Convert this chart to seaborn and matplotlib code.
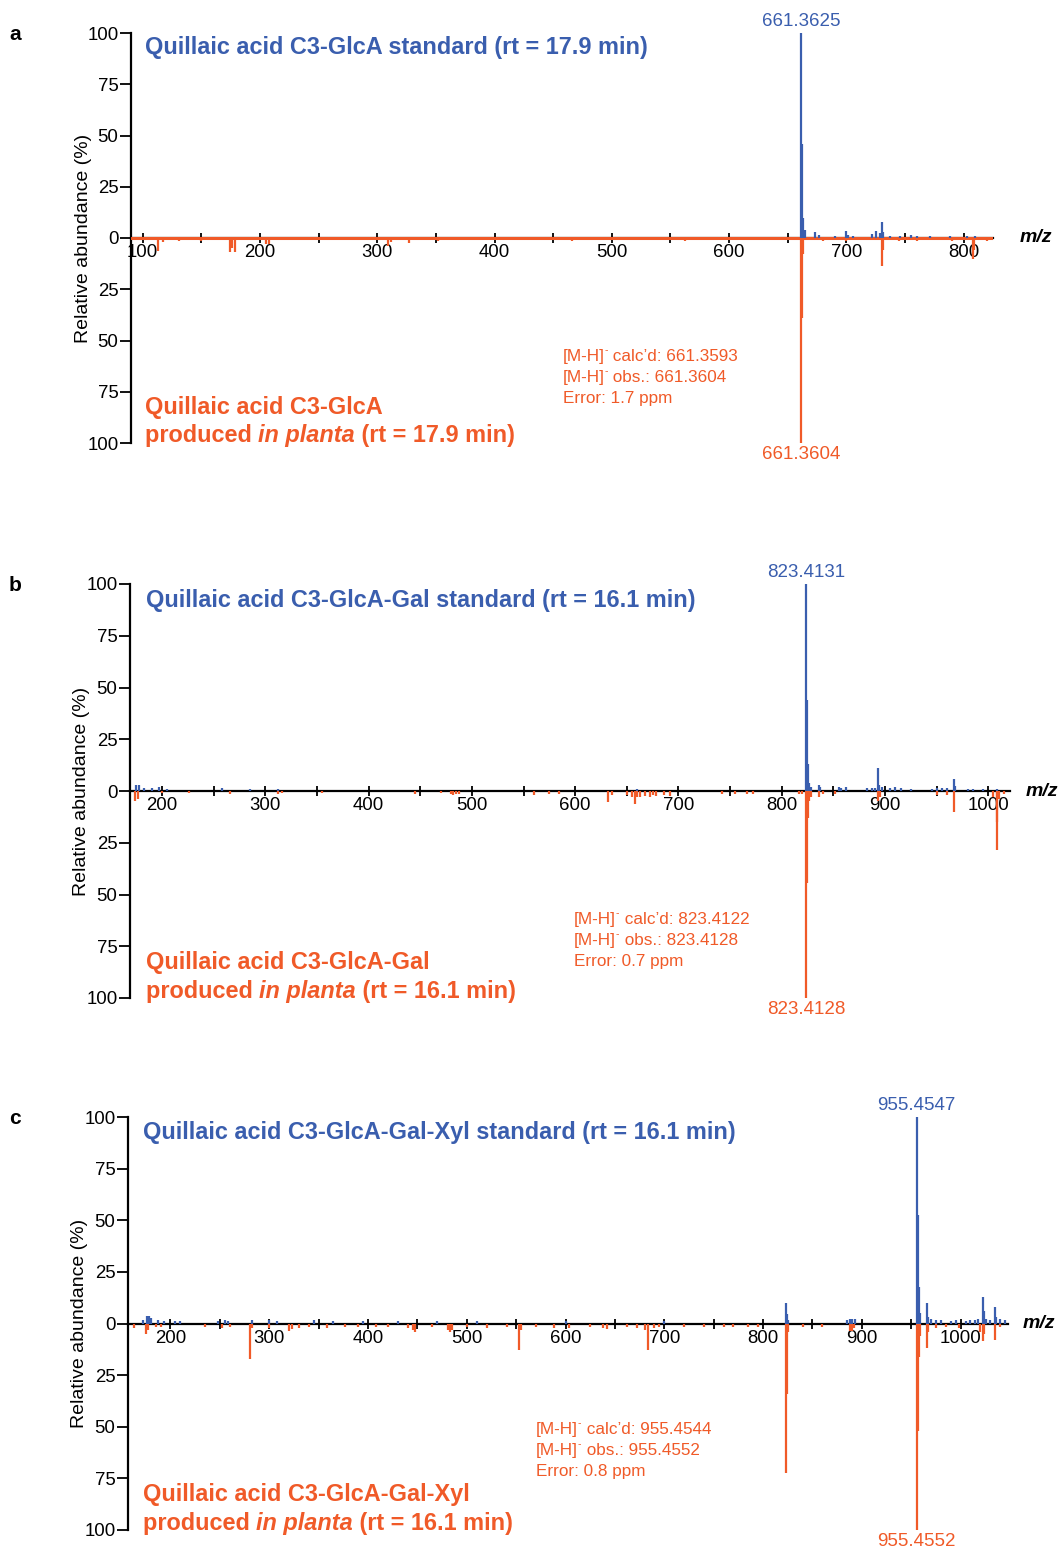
import matplotlib
matplotlib.use("Agg")
import matplotlib.pyplot as plt
import seaborn as sns
import numpy as np

sns.set_theme(style="white")
plt.rcParams['font.family'] = ['Liberation Sans', 'DejaVu Sans']

BLUE = "#3A5EAE"
ORANGE = "#F05A28"

W, H = 1061, 1551

# ---------------- Data (m/z, relative abundance %) ----------------
# Panel a: Quillaic acid C3-GlcA
a_std_mz = [661.36, 662.36, 663.37, 664.4, 673.0, 676.5, 690.0, 699.5, 701.0, 705.5, 722.0,
            725.5, 729.0, 730.4, 731.4, 737.0, 745.5, 755.0, 760.0, 771.0, 788.0, 803.0, 810.0]
a_std_int = [100, 46, 10, 4, 3.0, 1.5, 1.0, 3.2, 1.5, 1.0, 2.0,
             3.5, 2.5, 8.0, 3.0, 1.0, 1.0, 1.5, 1.2, 1.0, 0.8, 0.8, 1.0]
a_pl_mz = [113, 117, 131, 150, 174, 176.5, 179, 190, 205, 207.5, 228, 250, 262, 281, 309, 312,
           327, 352, 371, 400, 425, 462, 466, 501, 530, 562, 581, 610, 630, 661.36, 662.36,
           663.37, 680, 700, 715, 730.4, 731.4, 745, 760, 780, 790, 808, 809, 820]
a_pl_int = [6.5, 2, 1.5, 1.5, 7, 5, 7, 1, 3, 3, 1, 1, 1, 1, 4, 2,
            2.5, 1.5, 1, 1, 1, 1, 1.5, 1.0, 1, 1.5, 1, 1, 1, 100, 39,
            8, 1.5, 1.5, 1, 13.5, 6, 1.5, 1.5, 1, 1.5, 10, 6, 1.5]

# Panel b: Quillaic acid C3-GlcA-Gal
b_std_mz = [175, 178, 183, 190, 197, 205, 258, 285, 312, 660, 823.41, 824.41, 825.42, 826.4,
            828, 836, 837, 855, 857, 862, 883, 887, 890, 893, 894, 897, 905, 910, 915, 925,
            945, 950, 955, 960, 966.5, 967.5, 980, 985, 995, 1008]
b_std_int = [3, 3, 1.5, 1.5, 2, 1, 1.5, 1, 1, 1, 100, 44, 13, 4,
             2, 3, 2, 2, 1.5, 2, 1.5, 1.5, 1.5, 11, 3, 2, 1.5, 2, 1.5, 1.2,
             1.2, 1.5, 1.5, 1.5, 5.6, 2.5, 1.2, 1.2, 1.2, 1.0]
b_pl_mz = [174, 177, 200, 226, 266, 312, 316, 355, 445, 470, 480, 482, 485, 488, 560, 575, 584,
           632, 636, 650, 655, 657.5, 660, 663, 668, 672, 675, 678, 686, 692, 742, 755, 766,
           772, 817, 820, 823.41, 824.41, 825.42, 826.4, 828, 836, 840, 852, 893, 895, 950,
           960, 966.5, 1005, 1008, 1008.6, 1010, 1015]
b_pl_int = [5, 4, 1.2, 1.2, 1.5, 1.5, 1.2, 1.2, 1.5, 1.2, 1.5, 2, 1.5, 1.5, 2, 1.5, 1.5,
            5.5, 2, 2, 3, 6.5, 3, 3, 2.5, 3, 2, 2.5, 2, 2.5, 1.5, 1.5, 1.5,
            1.5, 1.5, 1.5, 100, 44.6, 13, 5, 3, 3, 1.5, 1.5, 5, 3, 2,
            2, 10, 3, 15, 28.5, 4, 1.5]

# Panel c: Quillaic acid C3-GlcA-Gal-Xyl
c_std_mz = [172, 176.4, 178, 180, 187, 193, 205, 210, 248, 255, 258, 283, 300, 308, 345, 365,
            395, 430, 470, 510, 600, 700, 823.4, 824.4, 825.4, 885, 888, 890, 893, 955.45,
            956.45, 957.46, 958.5, 965.6, 966.6, 970, 975, 980, 990, 995, 1005, 1010, 1015,
            1018, 1023, 1024, 1026, 1030, 1034.7, 1035.7, 1040, 1045]
c_std_int = [1.5, 3.5, 3.5, 2.5, 1.5, 1, 1.2, 1, 1, 1.5, 1, 1.5, 1.5, 1, 1.5, 1,
             1, 1, 1, 1, 1, 1, 10, 4.5, 1.5, 1.5, 2, 2, 2, 100,
             52.4, 17.7, 5, 9.7, 3, 2, 1.5, 1.5, 1.2, 1.5, 1.2, 1.5, 1.5,
             2, 13, 6, 2, 1.5, 8, 3, 2, 1.5]
c_pl_mz = [163, 175, 177, 185, 190, 235, 252, 260, 281, 283, 300, 320, 323, 330, 340, 358,
           377, 390, 408, 420, 440, 446, 448, 465, 481, 483.5, 485, 500, 520, 541, 553, 555,
           570, 588, 604, 625, 638, 642, 662, 672, 680, 683.4, 690, 695, 720, 740, 760, 770,
           785, 795, 823.4, 824.4, 825.4, 840, 860, 888, 890, 892, 955.45, 956.45, 957.46,
           958.5, 965.6, 966.6, 975, 985, 998, 1020, 1023, 1024, 1034.7, 1040]
c_pl_int = [2, 5, 3, 1.5, 1.5, 1.5, 2, 1.5, 17, 2, 2, 3.5, 2.5, 2, 1.5, 2,
            1.5, 1.5, 1.5, 1.5, 2, 3, 4, 1.5, 3, 4, 3, 1.5, 2, 1.5, 13, 3,
            1.5, 2, 2, 1.5, 2, 2.5, 1.5, 2, 3, 13, 2, 1.5, 1.5, 1.5, 1.5, 1.5,
            1.5, 1.5, 72.6, 33.9, 4, 1.5, 1.5, 3.5, 3.5, 2, 100, 52, 16,
            6, 12, 4, 2, 1.5, 2, 4, 8.4, 5, 8, 1.5]

ytick_vals = [-100, -75, -50, -25, 0, 25, 50, 75, 100]
ytick_labels = ["100", "75", "50", "25", "0", "25", "50", "75", "100"]

panels = [
    dict(letter="a", box=(131, 993, 33, 443), xlim=(90, 825), xticks=(100, 800),
         std=(a_std_mz, a_std_int), pl=(a_pl_mz, a_pl_int),
         top_title="Quillaic acid C3-GlcA standard (rt = 17.9 min)",
         bot_line1="Quillaic acid C3-GlcA", rt="17.9",
         top_peak=(661.36, "661.3625"), bot_peak=(661.36, "661.3604"),
         calc="661.3593", obs="661.3604", err="1.7",
         title_x=145, title_y=46, bot_y=(406, 434), ann=(563, 355), ylab_x=83,
         mz_x=1020, baseline=True),
    dict(letter="b", box=(130, 1010, 584, 998), xlim=(169, 1021), xticks=(200, 1000),
         std=(b_std_mz, b_std_int), pl=(b_pl_mz, b_pl_int),
         top_title="Quillaic acid C3-GlcA-Gal standard (rt = 16.1 min)",
         bot_line1="Quillaic acid C3-GlcA-Gal", rt="16.1",
         top_peak=(823.41, "823.4131"), bot_peak=(823.41, "823.4128"),
         calc="823.4122", obs="823.4128", err="0.7",
         title_x=146, title_y=599, bot_y=(961, 990), ann=(574, 918), ylab_x=82,
         mz_x=1026, baseline=False),
    dict(letter="c", box=(128, 1008, 1117, 1530), xlim=(157, 1048), xticks=(200, 1000),
         std=(c_std_mz, c_std_int), pl=(c_pl_mz, c_pl_int),
         top_title="Quillaic acid C3-GlcA-Gal-Xyl standard (rt = 16.1 min)",
         bot_line1="Quillaic acid C3-GlcA-Gal-Xyl", rt="16.1",
         top_peak=(955.45, "955.4547"), bot_peak=(955.45, "955.4552"),
         calc="955.4544", obs="955.4552", err="0.8",
         title_x=143, title_y=1131, bot_y=(1493, 1522), ann=(536, 1428), ylab_x=79,
         mz_x=1023, baseline=False),
]

fig = plt.figure(figsize=(W / 100, H / 100), dpi=100)
renderer = fig.canvas.get_renderer()


def ftext(x, y, s, **kw):
    return fig.text(x / W, 1 - y / H, s, **kw)


def text_width(s, **kw):
    t1 = fig.text(0, 0, s + "l", **kw)
    t2 = fig.text(0, 0, "l", **kw)
    w = t1.get_window_extent(renderer).width - t2.get_window_extent(renderer).width
    t1.remove()
    t2.remove()
    return w


def rich(x, y_base, pieces):
    """Draw text pieces side by side; y_base is baseline in pixels from top."""
    cur = x
    for s, kw in pieces:
        kw = dict(kw)
        dy = kw.pop("dy", 0)
        ftext(cur, y_base + dy, s, va="baseline", ha="left", **kw)
        cur += text_width(s, **kw)


TITLE_FS = 16.9
ANN_FS = 12.3

for p in panels:
    l, r, t, b = p["box"]
    ax = fig.add_axes([l / W, 1 - b / H, (r - l) / W, (b - t) / H])
    ax.set_facecolor("none")
    ax.set_xlim(*p["xlim"])
    ax.set_ylim(-100, 100)
    for s in ["top", "right"]:
        ax.spines[s].set_visible(False)
    ax.spines["bottom"].set_position(("data", 0))
    ax.spines["left"].set_color("black")
    ax.spines["bottom"].set_color("black")
    ax.spines["left"].set_linewidth(1.6)
    ax.spines["bottom"].set_linewidth(1.6)

    smz, sint = p["std"]
    pmz, pint = p["pl"]
    ax.vlines(smz, 0, sint, color=BLUE, lw=1.6, zorder=3)
    ax.vlines(pmz, 0, -np.asarray(pint), color=ORANGE, lw=1.6, zorder=3)
    if p["baseline"]:
        ax.axhline(0, color=ORANGE, lw=2.2, zorder=2.8)

    x0, x1 = p["xticks"]
    ticks = np.arange(x0 - 50, x1 + 51, 50)
    ticks = [tk for tk in ticks if p["xlim"][0] < tk < p["xlim"][1]]
    ax.set_xticks(ticks)
    ax.set_xticklabels([str(int(tk)) if tk % 100 == 0 else "" for tk in ticks])
    ax.tick_params(axis="x", direction="inout", length=7, width=1.3, pad=1,
                   labelsize=13.4, colors="black", bottom=True)
    ax.set_yticks(ytick_vals)
    ax.set_yticklabels(ytick_labels)
    ax.tick_params(axis="y", direction="out", length=8, width=1.3, pad=1,
                   labelsize=13.4, colors="black", left=True)

    # peak labels
    ax.annotate(p["top_peak"][1], xy=(p["top_peak"][0], 100), xytext=(0, 2),
                textcoords="offset points", ha="center", va="bottom",
                color=BLUE, fontsize=13.5)
    ax.annotate(p["bot_peak"][1], xy=(p["bot_peak"][0], -100), xytext=(0, -2),
                textcoords="offset points", ha="center", va="top",
                color=ORANGE, fontsize=13.5)

    # titles
    bold = dict(color=BLUE, fontsize=TITLE_FS, fontweight="bold")
    rich(p["title_x"], p["title_y"] + 8, [(p["top_title"], bold)])
    obold = dict(color=ORANGE, fontsize=TITLE_FS, fontweight="bold")
    obit = dict(color=ORANGE, fontsize=TITLE_FS, fontweight="bold", fontstyle="italic")
    rich(p["title_x"], p["bot_y"][0] + 8, [(p["bot_line1"], obold)])
    rich(p["title_x"], p["bot_y"][1] + 8,
         [("produced ", obold), ("in planta", obit),
          (" (rt = " + p["rt"] + " min)", obold)])

    # mass accuracy annotation
    ann = dict(color=ORANGE, fontsize=ANN_FS)
    sup = dict(color=ORANGE, fontsize=7.5, dy=-8)
    ax_, ay_ = p["ann"]
    rich(ax_, ay_ + 6, [("[M-H]", ann), ("-", sup), (" calc\u2019d: " + p["calc"], ann)])
    rich(ax_, ay_ + 27, [("[M-H]", ann), ("-", sup), (" obs.: " + p["obs"], ann)])
    rich(ax_, ay_ + 48, [("Error: " + p["err"] + " ppm", ann)])

    ftext(p["ylab_x"], (t + b) / 2, "Relative abundance (%)", rotation=90,
          fontsize=14, va="center", ha="center", color="black")
    ftext(p["mz_x"], (t + b) / 2, "m/z", fontsize=14, fontweight="bold",
          fontstyle="italic", va="center", ha="left", color="black")
    ftext(15, t + 2, p["letter"], fontsize=15, fontweight="bold", va="center",
          ha="center", color="black")

fig.savefig("out.png", dpi=100)
